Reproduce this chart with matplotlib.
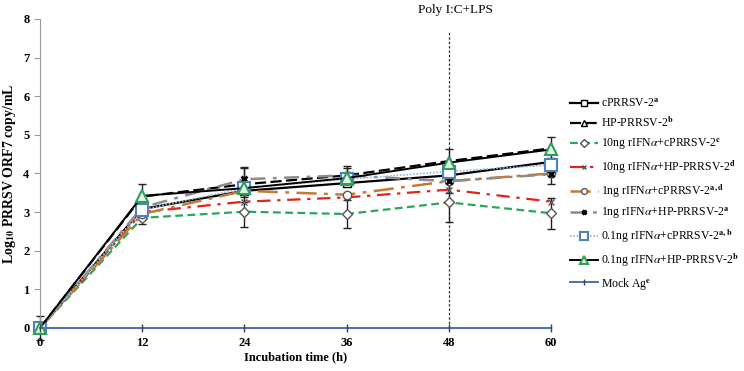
import numpy as np
import matplotlib
matplotlib.use("Agg")
import matplotlib.pyplot as plt

plt.rcParams['font.family'] = ['Liberation Serif', 'DejaVu Serif']
plt.rcParams['mathtext.fontset'] = 'stix'

# data
hours = [0, 12, 24, 36, 48, 60]
labels = [
    r'cPRRSV-2$^{\mathbf{a}}$',
    r'HP-PRRSV-2$^{\mathbf{b}}$',
    r'10ng rIFN$\alpha$+cPRRSV-2$^{\mathbf{c}}$',
    r'10ng rIFN$\alpha$+HP-PRRSV-2$^{\mathbf{d}}$',
    r'1ng rIFN$\alpha$+cPRRSV-2$^{\mathbf{a,d}}$',
    r'1ng rIFN$\alpha$+HP-PRRSV-2$^{\mathbf{a}}$',
    r'0.1ng rIFN$\alpha$+cPRRSV-2$^{\mathbf{a,b}}$',
    r'0.1ng rIFN$\alpha$+HP-PRRSV-2$^{\mathbf{b}}$',
    r'Mock Ag$^{\mathbf{e}}$',
]
c_prrsv = [0, 3.08, 3.55, 3.75, 3.95, 4.30]
hp_prrsv = [0, 3.40, 3.72, 3.95, 4.32, 4.65]
ifn10_c = [0, 2.85, 3.01, 2.95, 3.25, 2.97]
ifn10_hp = [0, 3.00, 3.27, 3.38, 3.58, 3.27]
ifn1_c = [0, 2.95, 3.55, 3.45, 3.80, 4.00]
ifn1_hp = [0, 3.12, 3.85, 3.95, 3.80, 3.98]
ifn01_c = [0, 3.06, 3.62, 3.85, 4.05, 4.22]
ifn01_hp = [0, 3.42, 3.62, 3.88, 4.28, 4.62]
mock = [0, 0, 0, 0, 0, 0]

# error whiskers as far as they can be read
err_low = [0.05, 0.16, 0.39, 0.35, 0.50, 0.40]   # on ifn10_c
err_high = [0.30, 0.33, 0.45, 0.20, 0.30, 0.30]  # on hp_prrsv
err_mid = [0.0, 0.15, 0.30, 0.25, 0.30, 0.25]    # on ifn1_hp

fig = plt.figure(figsize=(7.44, 3.71), dpi=100)
ax = fig.add_axes([0.0538, 0.116, 0.687, 0.833])

styles = [
    (c_prrsv, dict(color='black', ls='-', lw=1.6, marker='s', ms=6, mfc='white', mec='black')),
    (hp_prrsv, dict(color='black', ls=(0, (5, 2)), lw=1.6, marker='^', ms=6, mfc='white', mec='black')),
    (ifn10_c, dict(color='#25a85c', ls=(0, (3.5, 2)), lw=1.6, marker='D', ms=5.5, mfc='white', mec='#555555')),
    (ifn10_hp, dict(color='#e3221b', ls=(0, (6, 3, 1.5, 3)), lw=1.6, marker='x', ms=5, mfc='white', mec='#555555')),
    (ifn1_c, dict(color='#c47a37', ls=(0, (8, 3, 1.5, 3)), lw=1.8, marker='o', ms=6, mfc='white', mec='#555555')),
    (ifn1_hp, dict(color='#8c8c8c', ls=(0, (6, 3, 1.5, 3)), lw=1.8, marker='x', ms=4.5, mew=2, mfc='black', mec='black')),
    (ifn01_c, dict(color='#8eb4e3', ls=(0, (1, 1)), lw=1.2, marker='s', ms=8.5, mfc='white', mec='#4f81bd', mew=1.5)),
    (ifn01_hp, dict(color='black', ls='-', lw=1.4, marker='^', ms=8, mfc='#e6f5e6', mec='#2ca05a', mew=1.5)),
    (mock, dict(color='#4a72b0', ls='-', lw=1.4, marker='|', ms=6, mec='#444444')),
]

handles = []
for (vals, st), lab in zip(styles, labels):
    h, = ax.plot(hours, vals, label=lab, clip_on=False, zorder=3, **st)
    handles.append(h)

for vals, err in [(ifn10_c, err_low), (hp_prrsv, err_high), (ifn1_hp, err_mid)]:
    ax.errorbar(hours, vals, yerr=err, fmt='none', ecolor='#222222',
                elinewidth=1, capsize=3, zorder=2, clip_on=False)

# treatment line
ax.plot([48, 48], [0, 7.7], color='#333333', ls=(0, (2, 1.5)), lw=0.9, zorder=1)
ax.text(48.8, 8.22, 'Poly I:C+LPS', ha='center', va='center', fontsize=9.5)

ax.set_xlim(0, 60)
ax.set_ylim(0, 8)
ax.set_xticks(hours)
ax.set_yticks(range(0, 9))
for lbl in ax.get_xticklabels() + ax.get_yticklabels():
    lbl.set_fontweight('bold')
ax.tick_params(axis='x', direction='inout', length=5, color='#555555', labelsize=9, pad=4)
ax.tick_params(axis='y', direction='out', length=4, color='#999999', labelsize=9)
for s in ['top', 'right']:
    ax.spines[s].set_visible(False)
ax.spines['left'].set_color('#999999')
ax.spines['bottom'].set_color('#999999')

ax.set_xlabel('Incubation time (h)', fontweight='bold', fontsize=9, labelpad=2)
ax.set_ylabel(r'Log$_{\mathbf{10}}$ PRRSV ORF7 copy/mL', fontweight='bold', fontsize=10)

fig.legend(handles=handles, loc='upper left', bbox_to_anchor=(0.760, 0.75),
           frameon=False, fontsize=8.5, labelspacing=0.55, handlelength=2.4,
           handletextpad=0.25, borderaxespad=0, markerscale=0.7)

fig.savefig('out.png', dpi=100)
